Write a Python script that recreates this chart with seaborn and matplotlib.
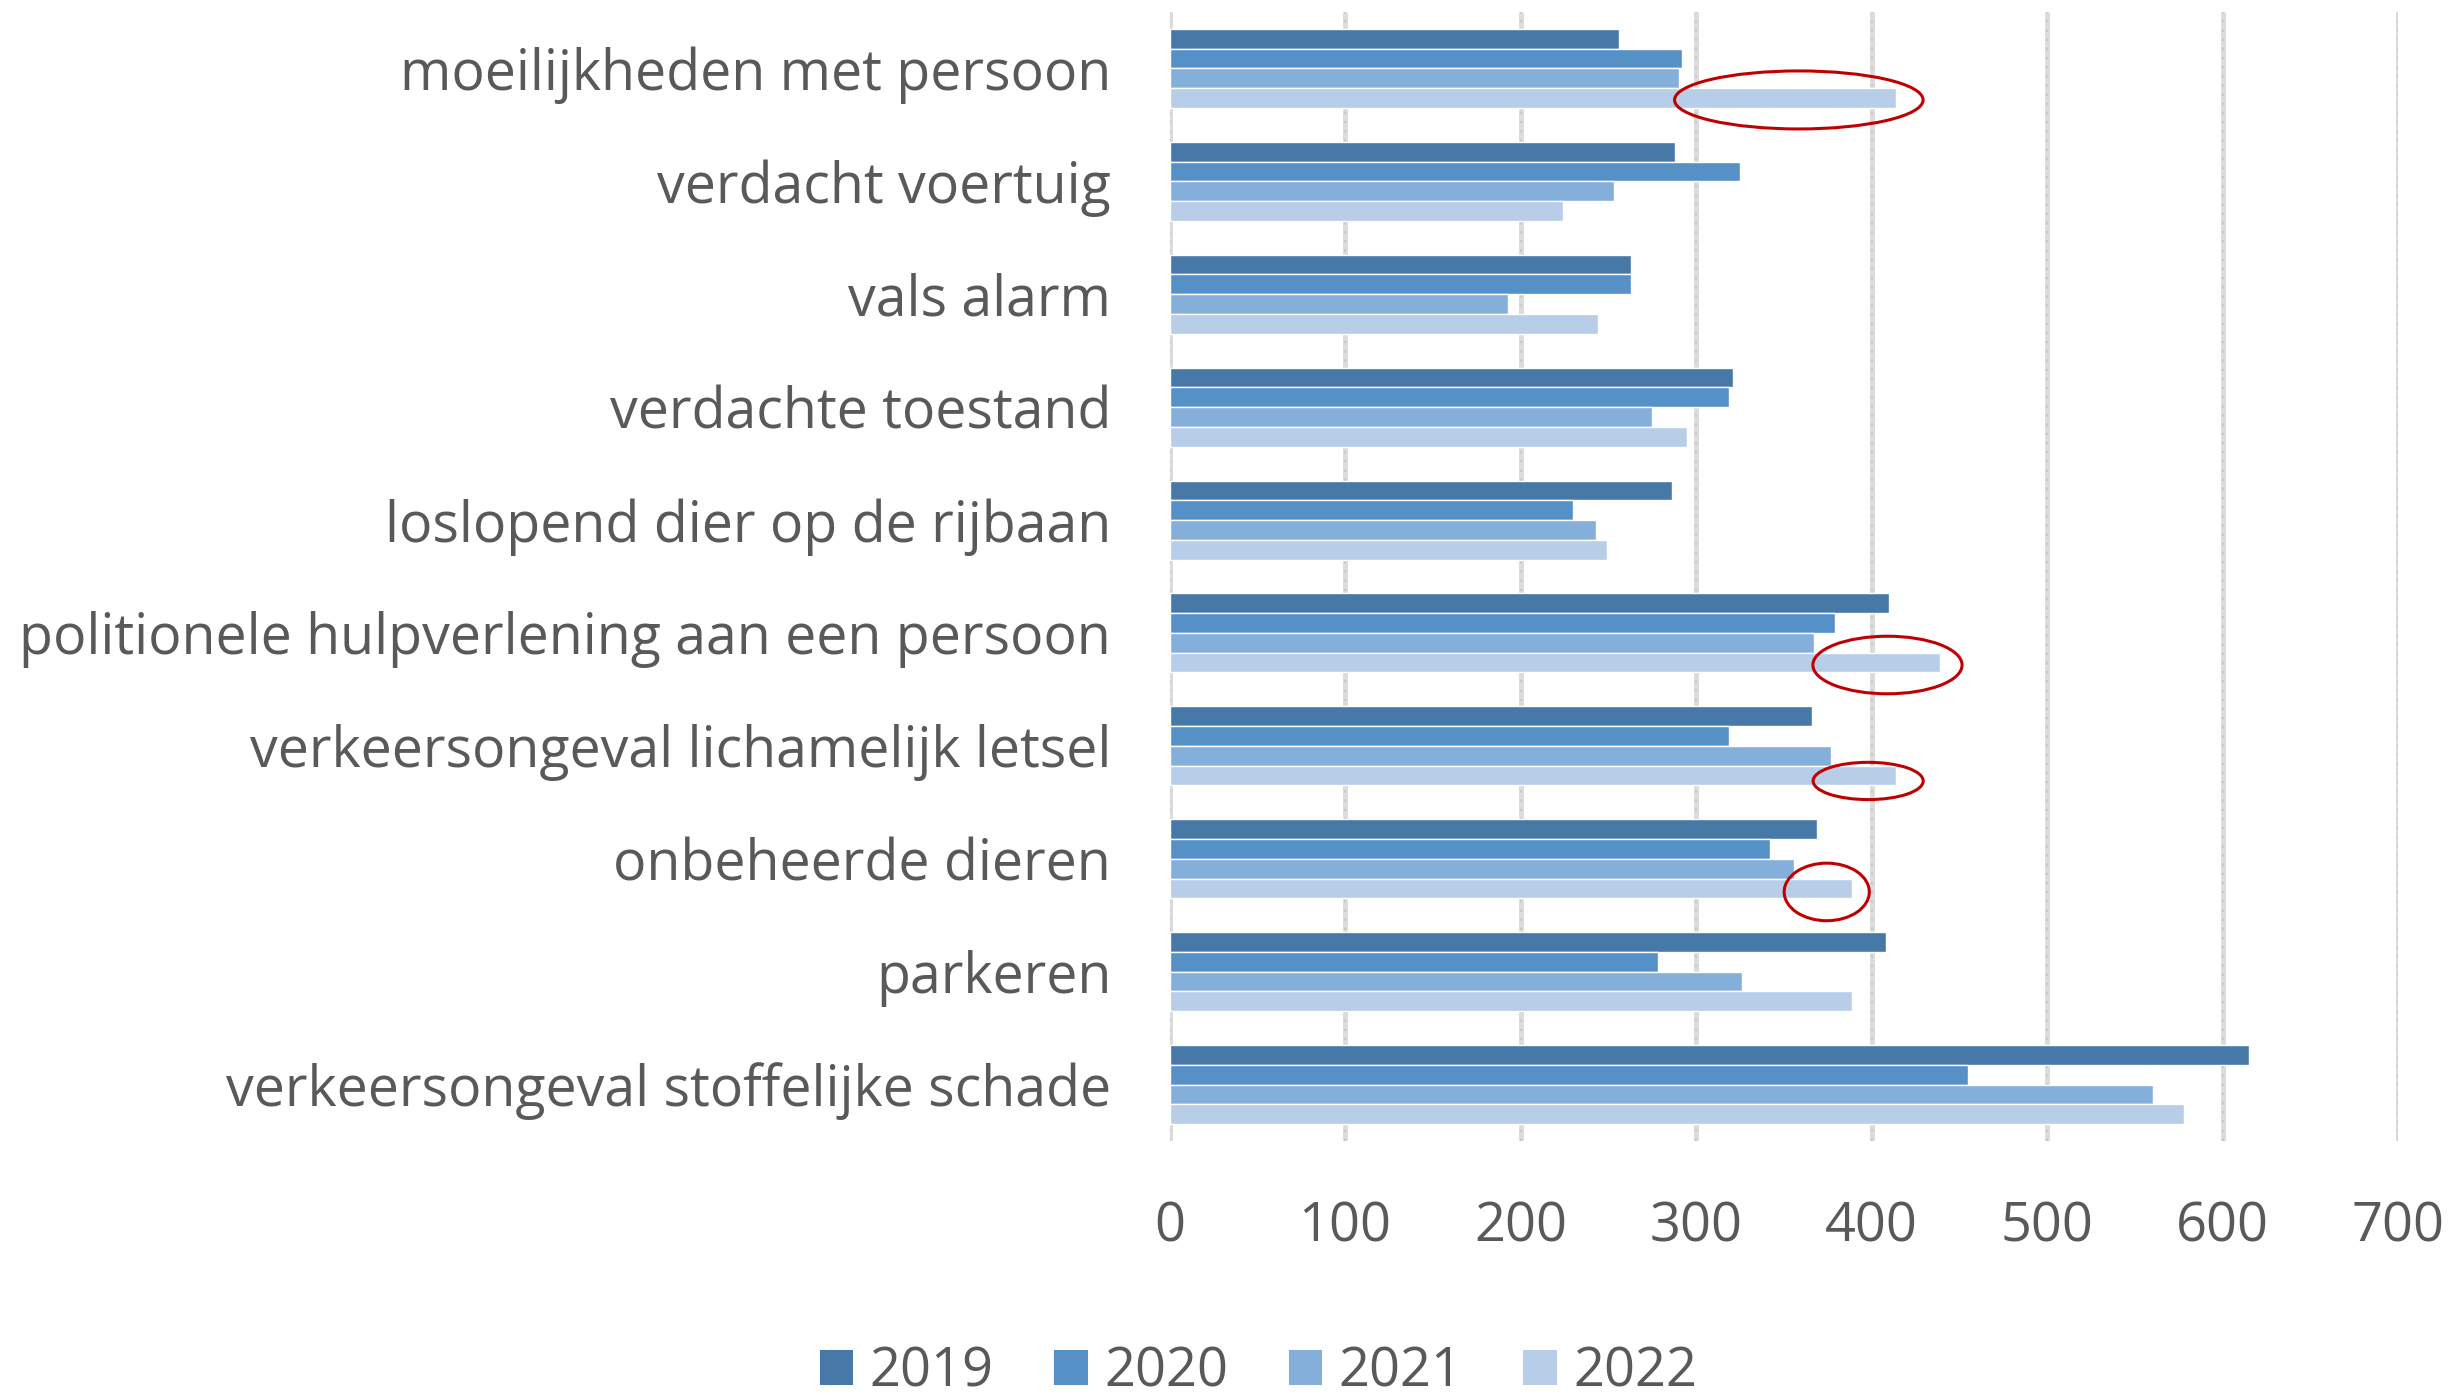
import numpy as np
import pandas as pd
import matplotlib
matplotlib.use("Agg")
import matplotlib.pyplot as plt
from matplotlib.patches import Ellipse, Patch
import seaborn as sns

categories = [
    "moeilijkheden met persoon",
    "verdacht voertuig",
    "vals alarm",
    "verdachte toestand",
    "loslopend dier op de rijbaan",
    "politionele hulpverlening aan een persoon",
    "verkeersongeval lichamelijk letsel",
    "onbeheerde dieren",
    "parkeren",
    "verkeersongeval stoffelijke schade",
]
years = ["2019", "2020", "2021", "2022"]
values_2019 = [256, 288, 263, 321, 286, 410, 366, 369, 408, 615]
values_2020 = [292, 325, 263, 319, 230, 379, 319, 342, 278, 455]
values_2021 = [290, 253, 193, 275, 243, 367, 377, 356, 326, 560]
values_2022 = [414, 224, 244, 295, 249, 439, 414, 389, 389, 578]
colors = ["#4678A8", "#5591C6", "#85AFDB", "#B8CEE8"]
xticks = [0, 100, 200, 300, 400, 500, 600, 700]

# highlighted (2022) bars: category index, x centre, width, y offset, height
highlight_cat = [0, 5, 6, 7]
highlight_x = [358.5, 409, 398, 374.4]
highlight_w = [141.6, 85, 62.7, 48.5]
highlight_dy = [0.279, 0.284, 0.311, 0.294]
highlight_h = [0.514, 0.51, 0.33, 0.51]

series = [values_2019, values_2020, values_2021, values_2022]
rows = []
for y, vals in zip(years, series):
    for c, v in zip(categories, vals):
        rows.append({"cat": c, "year": y, "value": v})
df = pd.DataFrame(rows)

sns.set_style("white")
plt.rcParams["font.family"] = ["Open Sans", "DejaVu Sans"]

W, H, DPI = 2458, 1395, 100
fig = plt.figure(figsize=(W / DPI, H / DPI), dpi=DPI)
ax = fig.add_axes([1169.5 / W, 1 - 1141 / H, (2398.3 - 1169.5) / W, (1141 - 12) / H])

sns.barplot(data=df, y="cat", x="value", hue="year", order=categories,
            hue_order=years, palette=colors, saturation=1, orient="h",
            width=0.7, errorbar=None, legend=False, ax=ax, zorder=3)

ax.set_xlim(0, 700)
ax.set_ylim(9.5, -0.5)
ax.set_xticks(xticks)
ax.set_xticklabels([str(t) for t in xticks])
ax.set_xlabel("")
ax.set_ylabel("")
for s in ax.spines.values():
    s.set_visible(False)

# gridlines: light grey band with darker dots
for t in xticks:
    ax.axvline(t, color="#DCDCDC", lw=3.6, zorder=1, solid_capstyle="butt")
    ax.axvline(t, color="#C6C6C6", lw=1.2, zorder=1.5, dashes=(1.5, 4))

ax.tick_params(axis="x", length=0, pad=42, labelsize=39, labelcolor="#595959")
ax.tick_params(axis="y", length=0, pad=42, labelsize=40, labelcolor="#595959")

for ci, xc, w, dy, h in zip(highlight_cat, highlight_x, highlight_w, highlight_dy, highlight_h):
    e = Ellipse((xc, ci + dy), w, h, facecolor="none", edgecolor="#C00000",
                lw=2.2, zorder=5, clip_on=False)
    ax.add_patch(e)

handles = [Patch(facecolor=c, edgecolor="none") for c in colors]
fig.legend(handles, years, loc="center", bbox_to_anchor=(0.512, 0.0165), ncol=4,
           frameon=False, fontsize=39, labelcolor="#595959",
           handlelength=0.62, handleheight=0.62, handletextpad=0.3,
           columnspacing=1.12, borderpad=0)

fig.savefig("out.png", dpi=DPI)
